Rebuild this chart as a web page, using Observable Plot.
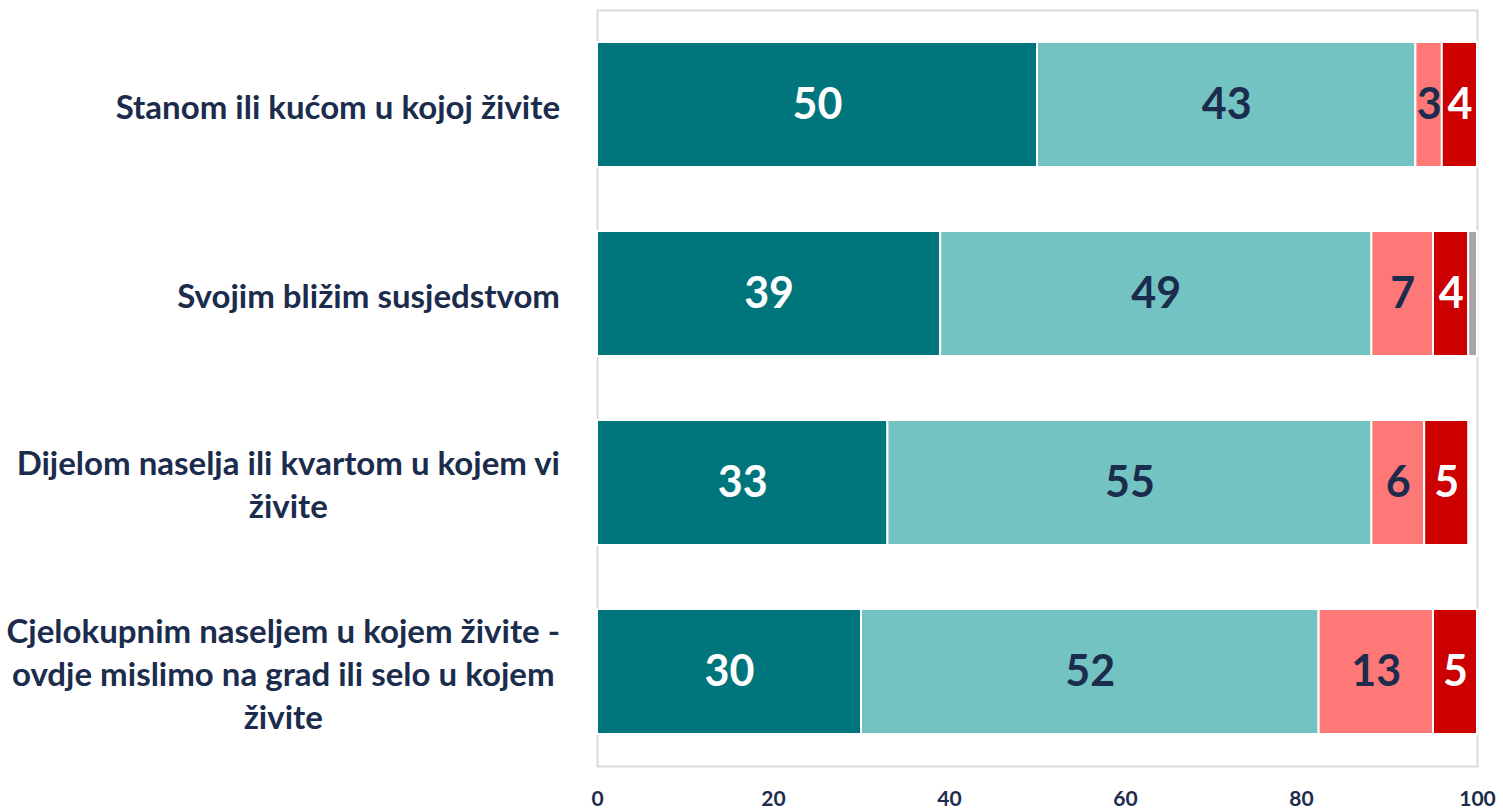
<!DOCTYPE html>
<html>
<head>
<meta charset="utf-8">
<script src="https://cdn.jsdelivr.net/npm/d3@7"></script>
<script src="https://cdn.jsdelivr.net/npm/@observablehq/plot@0.6"></script>
<style>
  html, body { margin: 0; padding: 0; background: #ffffff; }
  #chart svg { display: block; }
</style>
</head>
<body>
<div id="chart"></div>
<script>
// ---- Data ----
const categories = [
  "Stanom ili kućom u kojoj živite",
  "Svojim bližim susjedstvom",
  "Dijelom naselja ili kvartom u kojem vi\nživite",
  "Cjelokupnim naseljem u kojem živite -\novdje mislimo na grad ili selo u kojem\nživite"
];
const seriesNames = ["Vrlo zadovoljni", "Uglavnom zadovoljni", "Uglavnom nezadovoljni", "Vrlo nezadovoljni", "Ne zna"];
const series1 = [50, 39, 33, 30];
const series2 = [43, 49, 55, 52];
const series3 = [3, 7, 6, 13];
const series4 = [4, 4, 5, 5];
const series5 = [0, 1, 0, 0];
const xTicks = [0, 20, 40, 60, 80, 100];

// ---- Styles ----
const seriesColors = ["#00757C", "#74C3C3", "#FF7878", "#CC0000", "#A6A6A6"];
const whiteLabelSeries = ["Vrlo zadovoljni", "Vrlo nezadovoljni"];
const navy = "#1B2C4C";

const seriesValues = [series1, series2, series3, series4, series5];
const rows = [];
categories.forEach((c, i) => {
  seriesValues.forEach((vals, j) => {
    rows.push({category: c, series: seriesNames[j], value: vals[i]});
  });
});

const stackOpts = (extra) => Plot.stackX({x: "value", y: "category", ...extra});

const chart = Plot.plot({
  width: 1503,
  height: 810,
  marginLeft: 597,
  marginRight: 26,
  marginTop: 10,
  marginBottom: 44,
  style: {fontFamily: "Lato, 'Open Sans', sans-serif", background: "#ffffff"},
  x: {domain: [0, 100], axis: null, label: null},
  y: {domain: categories, paddingInner: 0.34, paddingOuter: 0.17, axis: null, label: null},
  color: {domain: seriesNames, range: seriesColors},
  marks: [
    Plot.frame({stroke: "#D9D9D9", strokeWidth: 2}),
    Plot.barX(rows, Plot.filter(d => d.value > 0, stackOpts({fill: "series", stroke: "#ffffff", strokeWidth: 2}))),
    Plot.text(rows, Plot.filter(d => d.value >= 2 && whiteLabelSeries.includes(d.series),
      stackOpts({text: d => d.value, fill: "#ffffff", fontSize: 43, fontWeight: "bold"}))),
    Plot.text(rows, Plot.filter(d => d.value >= 2 && !whiteLabelSeries.includes(d.series),
      stackOpts({text: d => d.value, fill: navy, fontSize: 43, fontWeight: "bold"}))),
    Plot.axisX({ticks: xTicks, tickSize: 0, tickPadding: 25, fontSize: 21, fontWeight: "bold", color: navy, label: null}),
    Plot.text(categories, {y: d => d, text: d => d, frameAnchor: "left", textAnchor: "middle",
      lineAnchor: "middle", lineHeight: 1.3, fontSize: 33, fontWeight: "bold", fill: navy})
  ]
});

document.getElementById("chart").appendChild(chart);

// Right-align each category label block (lines centred within the block), like the original
const svg = chart.tagName.toLowerCase() === "svg" ? chart : chart.querySelector("svg");
const textGroups = svg.querySelectorAll('g[aria-label="text"]');
const labelGroup = textGroups[textGroups.length - 1];
const svgRect = svg.getBoundingClientRect();
const rightEdge = 597 - 37;
labelGroup.querySelectorAll("text").forEach(t => {
  const r = t.getBoundingClientRect();
  const shift = rightEdge - (r.right - svgRect.left);
  const prev = t.getAttribute("transform") || "";
  t.setAttribute("transform", `translate(${shift},0) ${prev}`);
});
</script>
</body>
</html>
